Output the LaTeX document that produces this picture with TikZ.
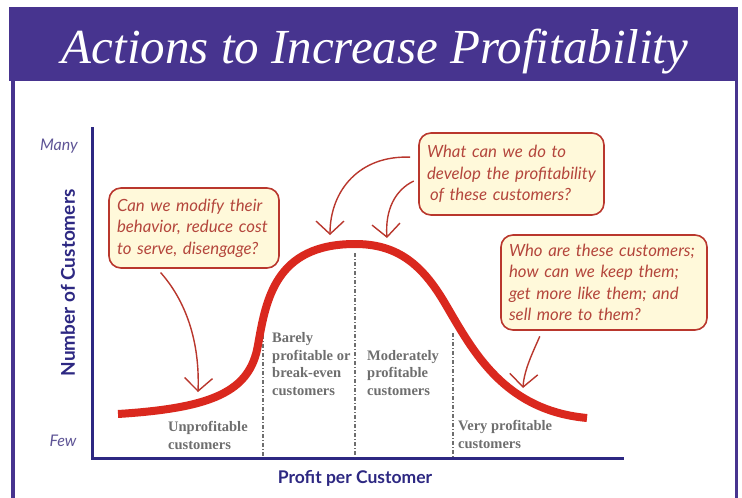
\documentclass[tikz,border=0pt]{standalone}
\usepackage{fontspec}
\setmainfont{Liberation Serif}
\setsansfont{Lato}
\usetikzlibrary{arrows.meta}

\definecolor{bandeau}{RGB}{71,52,143}
\definecolor{axe}{RGB}{45,40,130}
\definecolor{courbe}{RGB}{218,40,30}
\definecolor{bordbulle}{RGB}{185,55,45}
\definecolor{fondbulle}{RGB}{255,249,218}
\definecolor{textebulle}{RGB}{180,70,60}
\definecolor{zonegris}{RGB}{110,110,110}
\definecolor{legende}{RGB}{95,85,150}

\begin{document}
\begin{tikzpicture}[x=1pt, y=-1pt,
    bulle/.style={draw=bordbulle, line width=1.6pt, fill=fondbulle, rounded corners=12pt,
        align=left, text=textebulle, inner xsep=8pt, inner ysep=6pt,
        font=\sffamily\itshape\fontsize{16.8}{21.5}\selectfont},
    zone/.style={anchor=base west, align=left, text=zonegris, inner sep=0pt,
        font=\rmfamily\bfseries\fontsize{14.5}{17.5}\selectfont},
    fleche/.style={-{Straight Barb[length=13pt, width=28pt]}, line width=1.4pt, bordbulle},
    limite/.style={zonegris, line width=1.2pt, dash pattern=on 4pt off 2pt on 1pt off 2pt}]

    % Fond et cadre
    \useasboundingbox (0,0) rectangle (742,498);
    \fill[white] (0,0) rectangle (742,498);
    \fill[bandeau] (9,7) rectangle (738,81);
    \draw[bandeau, line width=3.5pt] (13,81) -- (13,498);
    \draw[bandeau, line width=3.5pt] (736.5,81) -- (736.5,498);

    % Titre
    \node[anchor=base, text=white, font=\rmfamily\itshape\fontsize{49}{49}\selectfont] (titre) at (375,63) {Actions to Increase Profitability};

    % Axes
    \draw[axe, line width=3pt] (92,127) -- (92,458) -- (624,458);
    \node[text=legende, font=\sffamily\itshape\fontsize{16}{16}\selectfont] (many) at (59,146) {Many};
    \node[text=legende, font=\sffamily\itshape\fontsize{16}{16}\selectfont] (few) at (63,441) {Few};
    \node[rotate=90, text=axe, font=\sffamily\bfseries\fontsize{19}{19}\selectfont] (axey) at (68,283) {Number of Customers};
    \node[text=axe, font=\sffamily\bfseries\fontsize{17.5}{17.5}\selectfont] (axex) at (355,478) {Profit per Customer};

    % Limites des zones
    \draw[limite] (263,335) -- (263,457);
    \draw[limite] (355,253) -- (355,457);
    \draw[limite] (453,333) -- (453,457);

    % Zones de clients (la base est celle de la derniere ligne)
    \node[zone] (z1) at (168,449) {Unprofitable\\customers};
    \node[zone] (z2) at (272,395) {Barely\\profitable or\\break-even\\customers};
    \node[zone] (z3) at (367,395) {Moderately\\profitable\\customers};
    \node[zone] (z4) at (458,448) {Very profitable\\customers};

    % Courbe des clients
    \draw[courbe, line width=8pt] (118,414) .. controls (212,408) and (250,392) .. (258,345)
        .. controls (266,300) and (275,244) .. (355,244)
        .. controls (395,244) and (420,262) .. (443,300)
        .. controls (470,345) and (500,410) .. (587,418);

    % Bulles de questions
    \node[bulle, text width=154pt, minimum height=80pt] (q1) at (194,228)
        {Can we modify their\\behavior, reduce cost\\to serve, disengage?};
    \node[bulle, text width=169pt, minimum height=82pt] (q2) at (511.5,174)
        {What can we do to\\develop the profitability\\\hspace*{3pt}of these customers?};
    \node[bulle, text width=190pt, minimum height=95pt] (q3) at (604,282.5)
        {Who are these customers;\\how can we keep them;\\get more like them; and\\sell more to them?};

    % Fleches vers la courbe
    \coordinate (p1) at (198,392);
    \coordinate (p2) at (330,235);
    \coordinate (p3) at (387,238);
    \coordinate (p4) at (523,388);
    \draw[fleche, shorten <=5pt] (q1.228) .. controls (185,300) and (200,340) .. (p1);
    \draw[fleche, shorten <=8pt] (q2.170) .. controls (360,155) and (330,190) .. (p2);
    \draw[fleche, shorten <=5pt] (q2.183) .. controls (395,190) and (385,210) .. (p3);
    \draw[fleche, shorten <=6pt] (q3.218) .. controls (533,352) and (524,370) .. (p4);

\end{tikzpicture}
\end{document}
